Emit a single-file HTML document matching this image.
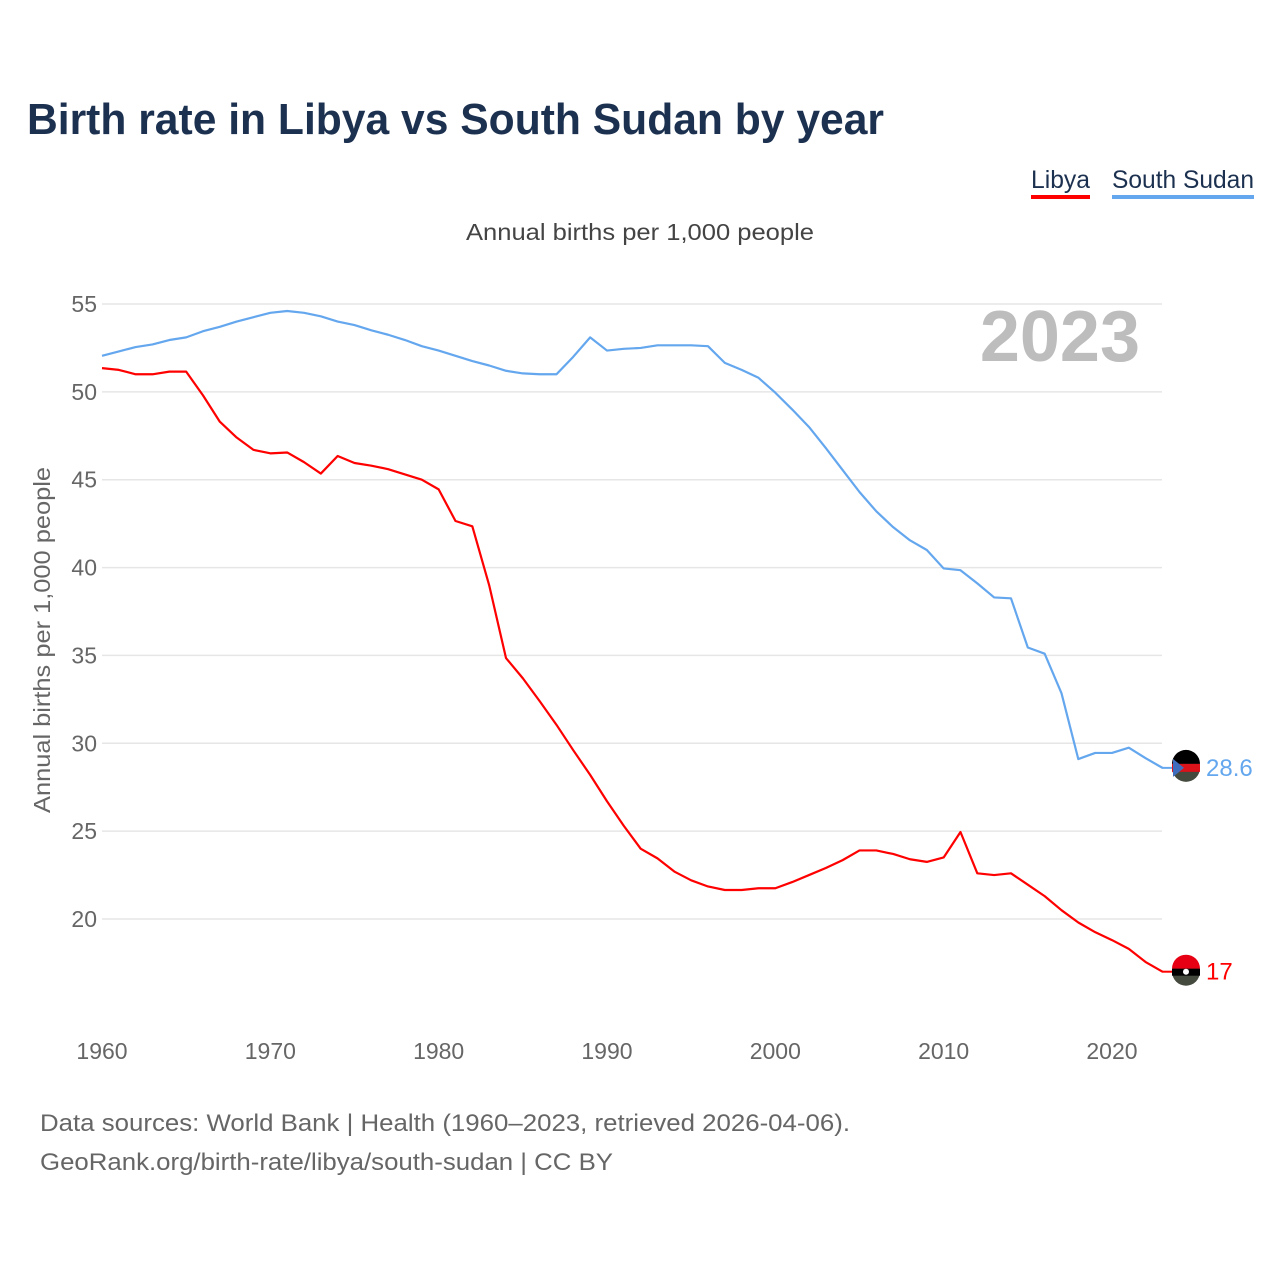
<!DOCTYPE html>
<html><head><meta charset="utf-8"><style>
body{margin:0;background:#fff;font-family:"Liberation Sans",sans-serif;}
svg text{font-family:"Liberation Sans",sans-serif;}
</style></head><body>
<svg id="chart" width="1280" height="1280" viewBox="0 0 1280 1280">
<rect width="1280" height="1280" fill="#fff"/>
<text x="27" y="134" font-size="44" font-weight="bold" fill="#1c3150" textLength="857" lengthAdjust="spacingAndGlyphs">Birth rate in Libya vs South Sudan by year</text>
<g>
<g><text x="1031" y="188" font-size="25" fill="#1c3150" textLength="59" lengthAdjust="spacingAndGlyphs">Libya</text><rect x="1031" y="195" width="59" height="4" fill="#ff0000"/></g>
<g><text x="1112" y="188" font-size="25" fill="#1c3150" textLength="142" lengthAdjust="spacingAndGlyphs">South Sudan</text><rect x="1112" y="195" width="142" height="4" fill="#64a7ee"/></g>
</g>
<text x="466" y="240" font-size="23" fill="#444" textLength="348" lengthAdjust="spacingAndGlyphs">Annual births per 1,000 people</text>
<text x="1140" y="361" font-size="72" font-weight="bold" fill="#bdbdbd" text-anchor="end">2023</text>
<text transform="translate(50,640) rotate(-90)" font-size="23" fill="#666" text-anchor="middle" textLength="346" lengthAdjust="spacingAndGlyphs">Annual births per 1,000 people</text>
<g id="grid"></g><g id="lines"></g><g id="labels"></g>
<text x="40" y="1131" font-size="24" fill="#666" textLength="810" lengthAdjust="spacingAndGlyphs">Data sources: World Bank | Health (1960–2023, retrieved 2026-04-06).</text>
<text x="40" y="1170" font-size="24" fill="#666" textLength="573" lengthAdjust="spacingAndGlyphs">GeoRank.org/birth-rate/libya/south-sudan | CC BY</text>
</svg>
<script>
const years = Array.from({length:64},(_,i)=>1960+i);
const libya = [51.35,51.25,51.0,51.0,51.15,51.15,49.8,48.3,47.4,46.7,46.5,46.55,46.0,45.35,46.35,45.95,45.8,45.6,45.3,45.0,44.45,42.65,42.35,39.0,34.85,33.7,32.4,31.05,29.6,28.2,26.7,25.3,24.0,23.45,22.7,22.2,21.85,21.65,21.65,21.75,21.75,22.1,22.5,22.9,23.35,23.9,23.9,23.7,23.4,23.25,23.5,24.95,22.6,22.5,22.6,21.95,21.3,20.5,19.8,19.25,18.8,18.3,17.55,17.0];
const southSudan = [52.05,52.3,52.55,52.7,52.95,53.1,53.45,53.7,54.0,54.25,54.5,54.6,54.5,54.3,54.0,53.8,53.5,53.25,52.95,52.6,52.35,52.05,51.75,51.5,51.2,51.05,51.0,51.0,52.0,53.1,52.35,52.45,52.5,52.65,52.65,52.65,52.6,51.65,51.25,50.8,49.95,49.0,48.0,46.8,45.55,44.3,43.2,42.3,41.55,41.0,39.95,39.85,39.1,38.3,38.25,35.45,35.1,32.85,29.1,29.45,29.45,29.75,29.15,28.6];
const yTicks = [20,25,30,35,40,45,50,55];
const xTicks = [1960,1970,1980,1990,2000,2010,2020];
const NS="http://www.w3.org/2000/svg";
const xS = y => 102 + (y-1960)*16.833;
const yS = v => 304 + (55-v)*17.571;
function mk(t,a,p){const e=document.createElementNS(NS,t);for(const k in a)e.setAttribute(k,a[k]);p.appendChild(e);return e;}
const grid=document.getElementById('grid');
yTicks.forEach(v=>{
  const l=mk('line',{x1:102,x2:1162,y1:yS(v),y2:yS(v),stroke:'#e6e6e6','stroke-width':1.5},grid);
  
  
  const t=mk('text',{x:97,y:yS(v)+8,'font-size':23,fill:'#666','text-anchor':'end'},grid);
  t.textContent=v;
  
  
});
xTicks.forEach(v=>{
  const t=mk('text',{x:xS(v),y:1059,'font-size':23,fill:'#666','text-anchor':'middle'},grid);
  t.textContent=v;
  
  
});
const lines=document.getElementById('lines');
function series(vals,color,name){
  const p=mk('polyline',{points:vals.map((v,i)=>xS(years[i])+','+yS(v)).join(' '),fill:'none',stroke:color,'stroke-width':2.2,'stroke-linejoin':'round'},lines);
  
  
  const last=vals[vals.length-1];
  const cy=yS(last);
  const g=mk('g',{},lines);
  
  
  mk('line',{x1:1162,x2:1172,y1:cy,y2:cy,stroke:color,'stroke-width':2},g);
  mk('circle',{cx:1186,cy:cy,r:14,fill:'#454a3f'},g);
  if(name==='libya'){
    mk('path',{d:`M1172 ${cy-3} A14 14 0 0 1 1200 ${cy-3} Z`,fill:'#e70013'},g);
    mk('rect',{x:1172,y:cy-3,width:28,height:7,fill:'#000'},g);
    mk('circle',{cx:1186,cy:cy,r:3,fill:'#fff'},g);
  } else {
    mk('path',{d:`M1172 ${cy-4} A14 14 0 0 1 1200 ${cy-4} Z`,fill:'#000'},g);
    mk('rect',{x:1172,y:cy-4,width:28,height:8,fill:'#da121a'},g);
    mk('path',{d:`M1173 ${cy-9} L1184 ${cy} L1173 ${cy+9} Z`,fill:'#3f6dbd'},g);
  }
  const t=mk('text',{x:1206,y:cy+8,'font-size':24,fill:color},lines);
  t.textContent=String(last);
  
  
}
series(southSudan,'#64a7ee','south-sudan');
series(libya,'#ff0000','libya');
</script>
</body></html>
